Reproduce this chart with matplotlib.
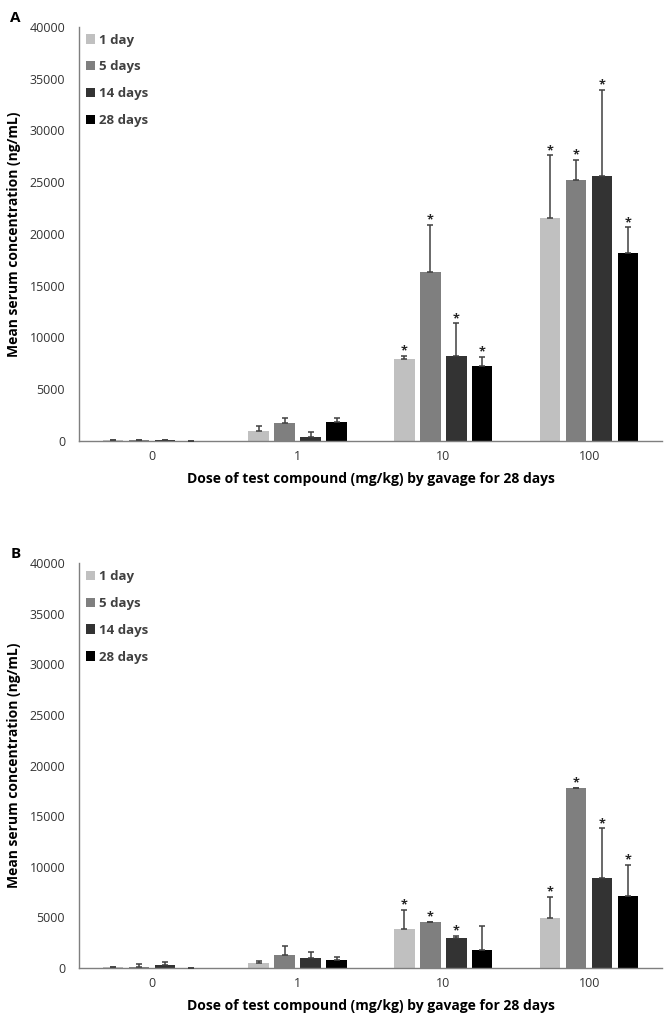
import numpy as np
import matplotlib
matplotlib.use("Agg")
import matplotlib.pyplot as plt

plt.rcParams['font.family'] = ['Open Sans', 'DejaVu Sans']

doses = ["0", "1", "10", "100"]
series = ["1 day", "5 days", "14 days", "28 days"]
colors = ["#c0c0c0", "#7f7f7f", "#333333", "#000000"]

# Panel A: means and upper error (top of error bar minus mean)
a_mean = [[30, 940, 7900, 21550],
          [50, 1740, 16330, 25250],
          [60, 330, 8180, 25550],
          [0, 1840, 7220, 18160]]
a_err = [[20, 480, 300, 6050],
         [30, 420, 4510, 1870],
         [20, 540, 3160, 8400],
         [0, 320, 900, 2460]]
a_star = [[0, 0, 1, 1], [0, 0, 1, 1], [0, 0, 1, 1], [0, 0, 1, 1]]

# Panel B
b_mean = [[30, 500, 3860, 4880],
          [50, 1220, 4490, 17740],
          [240, 990, 2940, 8870],
          [0, 760, 1750, 7120]]
b_err = [[20, 160, 1850, 2150],
         [290, 960, 60, 60],
         [320, 530, 200, 4910],
         [0, 330, 2410, 3040]]
b_star = [[0, 0, 1, 1], [0, 0, 1, 1], [0, 0, 1, 1], [0, 0, 0, 1]]

fig = plt.figure(figsize=(6.67, 10.35), dpi=100)
axA = fig.add_axes([0.1184, 0.5742, 0.8741, 0.3997])
axB = fig.add_axes([0.1184, 0.0650, 0.8741, 0.3907])

width = 0.14
step = 0.178
x = np.arange(len(doses))


def draw(ax, means, errs, stars, letter):
    for i, s in enumerate(series):
        pos = x + (i - 1.5) * step
        ax.bar(pos, means[i], width=width, color=colors[i], label=s,
               edgecolor="none", zorder=2)
        ax.errorbar(pos, means[i], yerr=[np.zeros(len(doses)), errs[i]],
                    fmt="none", ecolor="#404040", elinewidth=1.1,
                    capsize=2.5, capthick=1.1, zorder=3)
        for j in range(len(doses)):
            if stars[i][j]:
                ax.annotate("*", (pos[j], means[i][j] + errs[i][j]),
                            xytext=(0, 1), textcoords="offset points",
                            ha="center", va="baseline", fontsize=9,
                            fontweight="bold", color="#222222")
    ax.set_xlim(-0.5, 3.5)
    ax.set_ylim(0, 40000)
    ax.set_yticks(range(0, 40001, 5000))
    ax.set_xticks(x)
    ax.set_xticklabels(doses)
    ax.tick_params(length=0, labelsize=9, labelcolor="#333333", pad=7)
    ax.tick_params(axis="y", pad=10)
    for sp in ["top", "right"]:
        ax.spines[sp].set_visible(False)
    for sp in ["left", "bottom"]:
        ax.spines[sp].set_color("#7f7f7f")
        ax.spines[sp].set_linewidth(1.0)
    ax.set_ylabel("Mean serum concentration (ng/mL)", fontsize=10,
                  fontweight="bold", labelpad=6)
    ax.set_xlabel("Dose of test compound (mg/kg) by gavage for 28 days",
                  fontsize=10, fontweight="bold", labelpad=6)
    leg = ax.legend(loc="upper left", frameon=False, fontsize=9.5,
                    handlelength=0.7, handleheight=0.7, handletextpad=0.3,
                    labelspacing=1.05, borderaxespad=0.1,
                    bbox_to_anchor=(0.0, 1.0))
    for t in leg.get_texts():
        t.set_fontweight("bold")
        t.set_color("#404040")
    ax.text(-0.118, 1.005, letter, transform=ax.transAxes, fontsize=11,
            fontweight="bold", ha="left", va="bottom")


draw(axA, a_mean, a_err, a_star, "A")
draw(axB, b_mean, b_err, b_star, "B")

fig.savefig("out.png", dpi=100, facecolor="white")
